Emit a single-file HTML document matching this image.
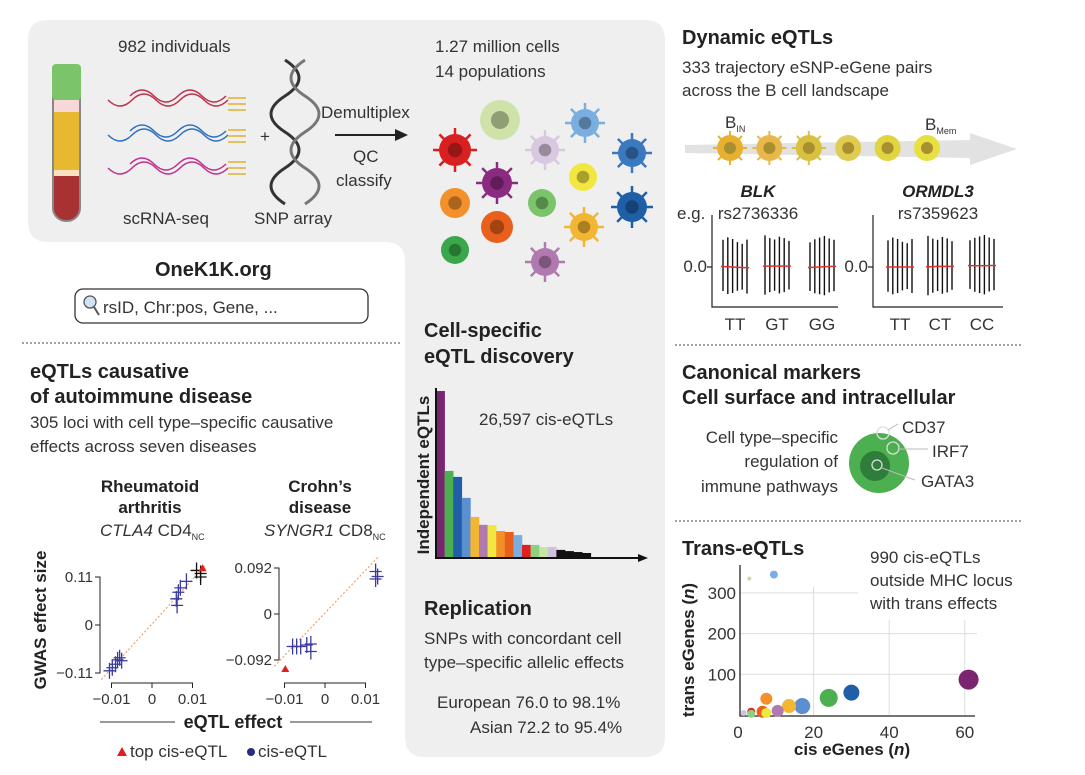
<!DOCTYPE html>
<html><head><meta charset="utf-8">
<style>
html,body{margin:0;padding:0;background:#fff;}
svg{display:block;font-family:"Liberation Sans Narrow","Liberation Sans",sans-serif;}
.t{font-size:17px;fill:#333;}
.b{font-size:20px;font-weight:bold;fill:#222;}
.s{font-size:15px;fill:#333;}
.tk{font-size:15px;fill:#333;}
</style></head>
<body>
<svg id="fig" width="1085" height="775" viewBox="0 0 1085 775" xmlns="http://www.w3.org/2000/svg">
<path d="M48,20 H645 Q665,20 665,40 V737 Q665,757 645,757 H425 Q405,757 405,737 V262 Q405,242 385,242 H48 Q28,242 28,222 V40 Q28,20 48,20 Z" fill="#efefef"/>

<text class="t" x="118" y="52">982 individuals</text>
<text class="t" x="435" y="52">1.27 million cells</text>
<text class="t" x="435" y="77">14 populations</text>
<g>
<rect x="53" y="66" width="27" height="155" rx="13" fill="#a83232" stroke="#888" stroke-width="2"/>
<rect x="54" y="75" width="25" height="100" fill="#e8b830"/>
<rect x="54" y="100" width="25" height="12" fill="#f6d8d8"/>
<rect x="54" y="170" width="25" height="6" fill="#f8e0c0"/>
<rect x="52" y="64" width="29" height="36" rx="4" fill="#7cc46a"/>
</g>
<g fill="none" stroke-width="1.5">
<path d="M108,100 q12,12 24,0 t24,0 t24,0 t24,0 t24,0" stroke="#c0304a"/>
<path d="M130,96 q12,-12 24,0 t24,0 t24,0 t24,0" stroke="#c0304a"/>
<path d="M108,135 q12,12 24,0 t24,0 t24,0 t24,0 t24,0" stroke="#3070c0"/>
<path d="M130,131 q12,-12 24,0 t24,0 t24,0 t24,0" stroke="#3070c0"/>
<path d="M108,168 q12,12 24,0 t24,0 t24,0 t24,0 t24,0" stroke="#c03090"/>
<path d="M130,164 q12,-12 24,0 t24,0 t24,0 t24,0" stroke="#c03090"/>
<path d="M228,98h18M228,104h18M228,110h18M228,130h18M228,136h18M228,142h18M228,162h18M228,168h18M228,174h18" stroke="#e0b030"/>
</g>
<text class="t" x="260" y="142">+</text>
<g fill="none" stroke="#333" stroke-width="3">
<path d="M285,60 q28,18 0,36 t0,36 t0,36 t0,36"/>
<path d="M305,60 q-28,18 0,36 t0,36 t0,36 t0,36" stroke="#777"/>
</g>
<text class="t" x="321" y="118">Demultiplex</text>
<line x1="335" y1="135" x2="395" y2="135" stroke="#222" stroke-width="2"/>
<polygon points="395,129 408,135 395,141" fill="#222"/>
<text class="t" x="353" y="162">QC</text>
<text class="t" x="336" y="186">classify</text>
<text class="t" x="123" y="224">scRNA-seq</text>
<text class="t" x="254" y="224">SNP array</text>
<g id="cells"></g>

<text class="b" x="155" y="276">OneK1K.org</text>
<rect x="75" y="289" width="293" height="34" rx="8" fill="#fff" stroke="#333" stroke-width="1.3"/>
<circle cx="90" cy="302" r="6" fill="#cfe3f5" stroke="#555" stroke-width="1.3"/>
<line x1="94" y1="307" x2="99" y2="315" stroke="#555" stroke-width="2"/>
<text class="t" x="103" y="313">rsID, Chr:pos, Gene, ...</text>

<line x1="22" y1="343" x2="400" y2="343" stroke="#444" stroke-dasharray="2,2"/>
<line x1="675" y1="345" x2="1022" y2="345" stroke="#444" stroke-dasharray="2,2"/>
<line x1="675" y1="521" x2="1022" y2="521" stroke="#444" stroke-dasharray="2,2"/>

<text class="b" x="30" y="378">eQTLs causative</text>
<text class="b" x="30" y="403">of autoimmune disease</text>
<text class="t" x="30" y="428">305 loci with cell type–specific causative</text>
<text class="t" x="30" y="452">effects across seven diseases</text>
<text x="150" y="492" text-anchor="middle" style="font-size:17px;font-weight:bold;fill:#222">Rheumatoid</text>
<text x="150" y="513" text-anchor="middle" style="font-size:17px;font-weight:bold;fill:#222">arthritis</text>
<text class="t" x="100" y="536"><tspan font-style="italic">CTLA4</tspan> CD4<tspan font-size="9" dy="4">NC</tspan></text>
<text x="320" y="492" text-anchor="middle" style="font-size:17px;font-weight:bold;fill:#222">Crohn’s</text>
<text x="320" y="513" text-anchor="middle" style="font-size:17px;font-weight:bold;fill:#222">disease</text>
<text class="t" x="264" y="536"><tspan font-style="italic">SYNGR1</tspan> CD8<tspan font-size="9" dy="4">NC</tspan></text>
<text transform="translate(46,620) rotate(-90)" text-anchor="middle" style="font-size:17px;font-weight:bold;fill:#222">GWAS effect size</text>
<g id="gwas"></g>
<line x1="100" y1="722" x2="175" y2="722" stroke="#333"/>
<line x1="290" y1="722" x2="372" y2="722" stroke="#333"/>
<text x="233" y="728" text-anchor="middle" style="font-size:18px;font-weight:bold;fill:#222">eQTL effect</text>
<polygon points="117,756 122,747 127,756" fill="#e02020"/>
<text class="t" x="130" y="757">top cis-eQTL</text>
<circle cx="251" cy="752" r="4" fill="#2a2a80"/>
<text class="t" x="258" y="757">cis-eQTL</text>

<text class="b" x="424" y="337">Cell-specific</text>
<text class="b" x="424" y="363">eQTL discovery</text>
<text transform="translate(429,475) rotate(-90)" text-anchor="middle" style="font-size:17px;font-weight:bold;fill:#222">Independent eQTLs</text>
<text class="t" x="479" y="425">26,597 cis-eQTLs</text>
<g id="bars"></g>
<text class="b" x="424" y="615">Replication</text>
<text class="t" x="424" y="644">SNPs with concordant cell</text>
<text class="t" x="424" y="668">type–specific allelic effects</text>
<text class="t" x="437" y="708">European 76.0 to 98.1%</text>
<text class="t" x="470" y="733">Asian 72.2 to 95.4%</text>

<text class="b" x="682" y="44">Dynamic eQTLs</text>
<text class="t" x="682" y="73">333 trajectory eSNP-eGene pairs</text>
<text class="t" x="682" y="96">across the B cell landscape</text>
<polygon points="685,145 970,140 970,133 1017,149 970,165 970,158 685,153" fill="#e2e2e2"/>
<g id="traj"></g>
<text class="t" x="725" y="128">B<tspan font-size="9" dy="4">IN</tspan></text>
<text class="t" x="925" y="130">B<tspan font-size="9" dy="4">Mem</tspan></text>
<text x="758" y="197" text-anchor="middle" style="font-size:17px;font-weight:bold;font-style:italic;fill:#222">BLK</text>
<text class="t" x="758" y="219" text-anchor="middle">rs2736336</text>
<text x="938" y="197" text-anchor="middle" style="font-size:17px;font-weight:bold;font-style:italic;fill:#222">ORMDL3</text>
<text class="t" x="938" y="219" text-anchor="middle">rs7359623</text>
<text class="t" x="677" y="219">e.g.</text>
<g id="dyn"></g>

<text class="b" x="682" y="379">Canonical markers</text>
<text class="b" x="682" y="404">Cell surface and intracellular</text>
<text class="t" x="838" y="443" text-anchor="end">Cell type–specific</text>
<text class="t" x="838" y="467" text-anchor="end">regulation of</text>
<text class="t" x="838" y="492" text-anchor="end">immune pathways</text>
<g>
<circle cx="879" cy="463" r="30" fill="#4caf50"/>
<circle cx="875" cy="466" r="15" fill="#2e7d3a"/>
<circle cx="883" cy="433" r="6" fill="none" stroke="#ddd" stroke-width="1.3"/>
<circle cx="893" cy="448" r="6" fill="none" stroke="#ddd" stroke-width="1.3"/>
<circle cx="877" cy="465" r="5" fill="none" stroke="#ddd" stroke-width="1.3"/>
<path d="M888,430 L898,424 M899,449 L928,449 M882,468 L915,480" stroke="#bbb" fill="none"/>
</g>
<text class="t" x="902" y="433">CD37</text>
<text class="t" x="932" y="457">IRF7</text>
<text class="t" x="921" y="487">GATA3</text>

<text class="b" x="682" y="555">Trans-eQTLs</text>
<text class="t" x="870" y="563">990 cis-eQTLs</text>
<text class="t" x="870" y="586">outside MHC locus</text>
<text class="t" x="870" y="609">with trans effects</text>
<g id="trans"></g>
<text transform="translate(694,650) rotate(-90)" text-anchor="middle" style="font-size:17px;font-weight:bold;fill:#222">trans eGenes (<tspan font-style="italic">n</tspan>)</text>
<text x="852" y="755" text-anchor="middle" style="font-size:17px;font-weight:bold;fill:#222">cis eGenes (<tspan font-style="italic">n</tspan>)</text>
</svg>
<script>
const NS="http://www.w3.org/2000/svg";
function mk(p,tag,at){const e=document.createElementNS(NS,tag);for(const k in at)e.setAttribute(k,at[k]);p.appendChild(e);return e;}

const barCategories=["c1","c2","c3","c4","c5","c6","c7","c8","c9","c10","c11","c12","c13","c14","c15","c16","c17","c18"];
const barValues=[7000,3650,3400,2520,1720,1390,1380,1130,1090,960,550,550,460,460,340,290,250,210];
const barColors=["#7b2470","#4caf50","#1f5fa8","#5b8fd0","#f2b632","#b07ab0","#f2e640","#f4902a","#e8601c","#7aaee0","#e02020","#8fcf7f","#c8e6a0","#d0c0e0","#111","#111","#111","#111"];
const transCis=[3,9.5,61,30,24,17,13.5,10.5,7.5,6.5,7.5,3.5,3.5,1.5];
const transTrans=[335,345,87,55,42,22,22,10,40,8,5,8,3,5];
const transSize=[2,4,10,8,9,8,7,6,6,6,5,4,4,3];
const transColors=["#c8d8b0","#7aaee0","#7b2470","#1f5fa8","#4caf50","#5b8fd0","#f2b632","#b07ab0","#f4902a","#e8601c","#f2e640","#e02020","#8fcf7f","#d0c0e0"];
const transXTicks=[0,20,40,60];
const transYTicks=[100,200,300];
const raEqtl=[-0.0105,-0.0098,-0.009,-0.0085,-0.008,-0.0075,0.006,0.0065,0.007,0.0085,0.0062,0.011,0.012,0.012,0.0125];
const raGwas=[-0.105,-0.098,-0.09,-0.08,-0.075,-0.082,0.06,0.075,0.085,0.1,0.045,0.125,0.118,0.11,0.13];
const raType=["b","b","b","b","b","b","b","b","b","b","b","k","k","k","top"];
const cdEqtl=[-0.008,-0.007,-0.006,-0.0045,-0.0035,-0.0035,0.0125,0.013,0.0125,-0.0098];
const cdGwas=[-0.065,-0.065,-0.065,-0.062,-0.06,-0.075,0.07,0.075,0.085,-0.11];
const cdType=["b","b","b","b","b","b","b","b","b","top"];
const raYTicks=[-0.11,0,0.11];
const cdYTicks=[-0.092,0,0.092];
const eqtlXTicks=[-0.01,0,0.01];
const dynGroupsBLK=["TT","GT","GG"];
const dynGroupsORM=["TT","CT","CC"];
const blkMeans=[[0.02,0.01,0,-0.01,-0.02,-0.02],[0.03,0.03,0.03,0.03,0.03,0.03],[-0.02,-0.01,0,0.01,0.02,0.02]];
const ormMeans=[[0,0,0,0,0,0],[0.01,0.01,0.02,0.02,0.02,0.02],[0.05,0.04,0.04,0.04,0.05,0.05]];
const dynSpread=[[0.95,1.05,1.0,0.9,0.85,1.0],[1.1,1.0,0.95,1.05,1.0,0.9],[0.9,1.0,1.05,1.1,1.0,0.95]];
const trajColors=["#e8b030","#e8b84a","#d8c040","#e0cc50","#e0d440","#e8e040"];

(function(){
 const g=document.getElementById('bars');
 const x0=436,base=558,bw=8.6,maxH=167,maxV=Math.max(...barValues);
 const y=v=>base-v/maxV*maxH;
 barValues.forEach((v,i)=>{
  const r=mk(g,'rect',{x:x0+i*bw,y:y(v),width:bw+0.3,height:base-y(v),fill:barColors[i]});
  
  
 });
 const ax=mk(g,'path',{d:`M${x0},${base-170} V${base} H640`,stroke:'#111','stroke-width':2,fill:'none'});
 
 
 const ah=mk(g,'polygon',{points:`638,${base-4} 648,${base} 638,${base+4}`,fill:'#111'});
 
 
})();

(function(){
 const g=document.getElementById('trans');
 const X=v=>738+v*3.78, Y=v=>715-v*0.407;
 transXTicks.slice(1).forEach(t=>{
  const top=t===20?587:620;
  const l=mk(g,'line',{x1:X(t),x2:X(t),y1:top,y2:715,stroke:'#ddd'});
  
  
 });
 transYTicks.forEach(t=>{
  const l=mk(g,'line',{x1:740,x2:t===300?858:977,y1:Y(t),y2:Y(t),stroke:'#ddd'});
  
  
  const tx=mk(g,'text',{x:736,y:Y(t)+6,'text-anchor':'end',class:'t'});tx.textContent=t;
  
  
 });
 transXTicks.forEach(t=>{
  const tx=mk(g,'text',{x:X(t),y:738,'text-anchor':'middle',class:'t'});tx.textContent=t;
  
  
 });
 const ax=mk(g,'path',{d:`M740,565 V716 H975`,stroke:'#222','stroke-width':1.3,fill:'none'});
 
 
 transCis.forEach((c,i)=>{
  const p=mk(g,'circle',{cx:X(c),cy:Y(transTrans[i]),r:transSize[i],fill:transColors[i]});
  
  
 });
})();

function gwasPlot(g,ax,ay,xZero,yZero,yTop,yTopV,xs,ys,types,yt,name){
 const X=v=>xZero+v*4050, Y=v=>yZero-v*((yZero-yTop)/yTopV);
 const ln=mk(g,'line',{x1:X(-0.0125),y1:Y(-0.125*yTopV/0.11),x2:X(0.013),y2:Y(0.135*yTopV/0.11),stroke:'#f0a070','stroke-dasharray':'2,2','stroke-width':1.2});
 
 
 const a=mk(g,'path',{d:`M${ax-5},${Y(yt[2])} H${ax} V${Y(yt[0])} H${ax-5} M${ax},${yZero} H${ax-5} M${X(-0.01)},${ay+5} V${ay} H${X(0.01)} V${ay+5} M${X(0)},${ay} V${ay+5}`,stroke:'#222',fill:'none'});
 
 
 yt.forEach(t=>{const tx=mk(g,'text',{x:ax-7,y:Y(t)+5,'text-anchor':'end',class:'tk'});tx.textContent=t===0?'0':(t<0?'−'+(-t):t);
  
  });
 eqtlXTicks.forEach(t=>{const tx=mk(g,'text',{x:X(t),y:ay+21,'text-anchor':'middle',class:'tk'});tx.textContent=t===0?'0':(t<0?'−'+(-t):t);
  
  });
 xs.forEach((v,i)=>{
  const cx=X(v),cy=Y(ys[i]);
  if(types[i]==='top'){
   const p=mk(g,'polygon',{points:`${cx-4},${cy+3} ${cx},${cy-4} ${cx+4},${cy+3}`,fill:'#e02020'});
   
   
  } else {
   const col=types[i]==='k'?'#111':'#3a3aa0';
   const p=mk(g,'path',{d:`M${cx-6},${cy} H${cx+6} M${cx},${cy-8} V${cy+8}`,stroke:col,'stroke-width':1.3});
   
   
  }
 });
}
gwasPlot(document.getElementById('gwas'),100,683,152,625,577,0.11,raEqtl,raGwas,raType,raYTicks,'ra');
gwasPlot(document.getElementById('gwas'),279,683,325,614,568,0.092,cdEqtl,cdGwas,cdType,cdYTicks,'cd');

(function(){
 const g=document.getElementById('traj');
 trajColors.forEach((c,i)=>{
  const cx=730+i*39.4,cy=148;
  if(i<3){for(let k=0;k<8;k++){const a=k*Math.PI/4;mk(g,'line',{x1:cx,y1:cy,x2:cx+Math.cos(a)*17,y2:cy+Math.sin(a)*17,stroke:c,'stroke-width':2});}}
  const o=mk(g,'circle',{cx:cx,cy:cy,r:13,fill:c});
  
  
  mk(g,'circle',{cx:cx,cy:cy,r:6,fill:'#a89030'});
 });
})();

function dynPlot(g,ax,x2,centers,means,labels,name){
 const zeroY=267,sc=30;
 const a=mk(g,'path',{d:`M${ax},215 V307 H${x2} M${ax-5},${zeroY} H${ax}`,stroke:'#222',fill:'none','stroke-width':1.2});
 
 
 const tx=mk(g,'text',{x:ax-5,y:zeroY+5,'text-anchor':'end',class:'t'});tx.textContent='0.0';
 
 
 centers.forEach((cx,gi)=>{
  const m=means[gi];
  m.forEach((v,j)=>{
   const x=cx-12+j*4.8,sp=dynSpread[gi][j];
   const l=mk(g,'line',{x1:x,x2:x,y1:zeroY-v*sc-sp*28,y2:zeroY-v*sc+sp*26,stroke:'#111','stroke-width':1.4});
   
   
  });
  const pts=m.map((v,j)=>`${cx-14+j*5.6},${zeroY-v*sc}`).join(' ');
  const pl=mk(g,'polyline',{points:pts,stroke:'#e03030',fill:'none','stroke-width':1.5});
  
  
  const lb=mk(g,'text',{x:cx,y:330,'text-anchor':'middle',class:'t'});lb.textContent=labels[gi];
  
  
 });
}
dynPlot(document.getElementById('dyn'),712,838,[735,777,822],blkMeans,dynGroupsBLK,'blk');
dynPlot(document.getElementById('dyn'),873,1003,[900,940,982],ormMeans,dynGroupsORM,'ormdl3');

(function(){
 const g=document.getElementById('cells');
 const cells=[[455,150,16,'#d82020',1],[500,120,20,'#cfe3a8',0],[545,150,14,'#d8c8e0',1],[585,123,14,'#7aaee0',1],[632,153,14,'#3a78c0',1],[497,183,15,'#8a2a80',1],[583,177,14,'#f2e640',0],[542,203,14,'#7cc46a',0],[455,203,15,'#f4902a',0],[497,227,16,'#e8601c',0],[584,227,14,'#f2b632',1],[632,207,15,'#1f5fa8',1],[455,250,14,'#3aa84a',0],[545,262,14,'#b07ab0',1]];
 cells.forEach(c=>{
  if(c[4]){for(let k=0;k<8;k++){const a=k*Math.PI/4;mk(g,'line',{x1:c[0],y1:c[1],x2:c[0]+Math.cos(a)*(c[2]+6),y2:c[1]+Math.sin(a)*(c[2]+6),stroke:c[3],'stroke-width':2.5});}}
  const o=mk(g,'circle',{cx:c[0],cy:c[1],r:c[2],fill:c[3]});
  
  
  mk(g,'circle',{cx:c[0],cy:c[1],r:c[2]*0.45,fill:'#000','fill-opacity':0.3});
 });
})();
</script>
</body></html>
